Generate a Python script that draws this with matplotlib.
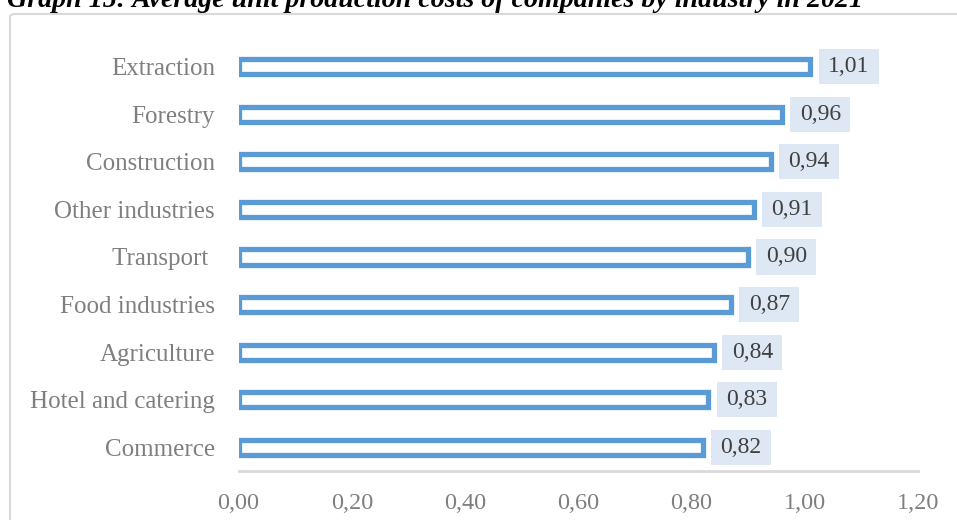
import matplotlib
matplotlib.use("Agg")
import matplotlib.pyplot as plt
from matplotlib.patches import Rectangle, FancyBboxPatch

# Data
industries = ["Extraction", "Forestry", "Construction", "Other industries",
              "Transport ", "Food industries", "Agriculture",
              "Hotel and catering", "Commerce"]
costs = [1.01, 0.96, 0.94, 0.91, 0.90, 0.87, 0.84, 0.83, 0.82]
x_ticks = [0.0, 0.2, 0.4, 0.6, 0.8, 1.0, 1.2]
title = "Graph 15: Average unit production costs of companies by industry in 2021"

SERIF = ["Liberation Serif", "DejaVu Serif"]
BLUE = "#5b9bd5"
LABEL_BG = "#dde8f4"

W, H = 957, 520
fig = plt.figure(figsize=(W / 100, H / 100), dpi=100)
fig.patch.set_facecolor("white")

# Chart frame (runs off the right and bottom edges)
frame = FancyBboxPatch((10 / W, -0.2), 1.2, (H - 14) / H + 0.2,
                       boxstyle="round,pad=0,rounding_size=0.006",
                       transform=fig.transFigure, fill=False,
                       edgecolor="#d9d9d9", linewidth=1.5, zorder=0)
fig.patches.append(frame)

# Title, partly above the top edge
fig.text(7 / W, 1 - 7 / H, title, family=SERIF, weight="bold", style="italic",
         fontsize=20.2, color="black", ha="left", va="baseline")

ax = fig.add_axes([238.5 / W, 49 / H, (918 - 238.5) / W, (471 - 43) / H])
ax.set_facecolor("none")

n = len(industries)
ypos = [n - 1 - i for i in range(n)]

ax.barh(ypos, costs, height=0.32, color="white", edgecolor=BLUE,
        linewidth=3.8, zorder=3)

# Value labels on light-blue boxes
box_w = 0.106
box_h = 0.74
gap = 0.0145
for y, v in zip(ypos, costs):
    x0 = v + gap
    ax.add_patch(Rectangle((x0, y - box_h / 2), box_w, box_h,
                           facecolor=LABEL_BG, edgecolor="none", zorder=4,
                           clip_on=False))
    ax.text(x0 + box_w / 2, y, f"{v:.2f}".replace(".", ","),
            ha="center", va="center", family=SERIF, fontsize=17,
            color="#404040", zorder=5, clip_on=False)

ax.set_xlim(0, 1.2)
ax.set_ylim(-0.5, n - 0.5)
ax.set_xticks(x_ticks)
ax.set_xticklabels([f"{t:.2f}".replace(".", ",") for t in x_ticks],
                   family=SERIF, fontsize=17.5, color="#7f7f7f")
ax.set_yticks(ypos)
ax.set_yticklabels(industries, family=SERIF, fontsize=18, color="#7f7f7f")
ax.tick_params(axis="both", length=0)
ax.tick_params(axis="y", pad=17)
ax.tick_params(axis="x", pad=16)

for side in ["top", "right", "left"]:
    ax.spines[side].set_visible(False)
ax.spines["bottom"].set_color("#d9d9d9")
ax.spines["bottom"].set_linewidth(2)

fig.savefig("out.png", dpi=100)
